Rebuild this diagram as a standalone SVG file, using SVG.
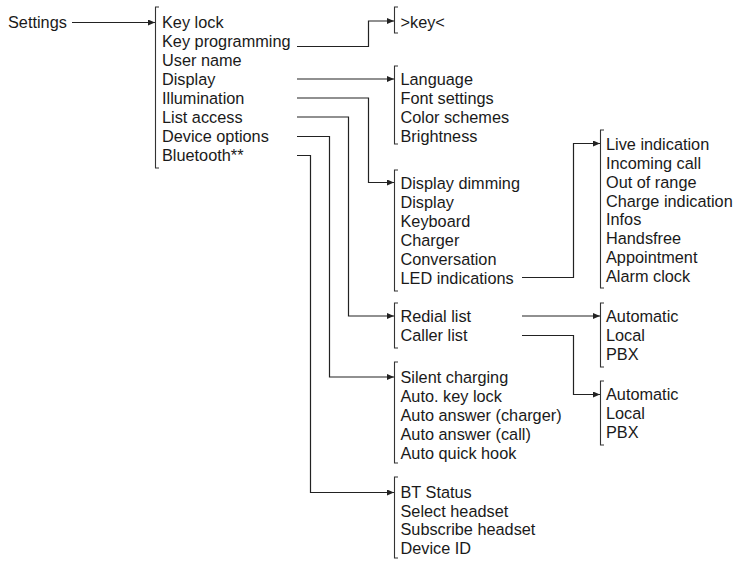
<svg xmlns="http://www.w3.org/2000/svg" width="735" height="561" viewBox="0 0 735 561">
<defs>
<marker id="ah" viewBox="0 0 7 6" refX="7" refY="3" markerWidth="7" markerHeight="6" orient="auto" markerUnits="userSpaceOnUse"><path d="M0,0 L7,3 L0,6 z" fill="#222"/></marker>
</defs>
<style>
text{font-family:"Liberation Sans",Arial,sans-serif;font-size:16.3px;fill:#1a1a1a}
.br{fill:none;stroke:#333;stroke-width:1.1}
.cn{fill:none;stroke:#222;stroke-width:1.2;marker-end:url(#ah)}
.ln{fill:none;stroke:#222;stroke-width:1.2}
</style>
<rect width="735" height="561" fill="#fff"/>
<g id="settings"><text x="8" y="28">Settings</text></g>
<g id="menu">
<path class="br" d="M159,7 H155.5 V168 H159"/>
<text x="162" y="28">Key lock</text>
<text x="162" y="47">Key programming</text>
<text x="162" y="66">User name</text>
<text x="162" y="85">Display</text>
<text x="162" y="104">Illumination</text>
<text x="162" y="123">List access</text>
<text x="162" y="142">Device options</text>
<text x="162" y="161">Bluetooth**</text>
</g>
<g id="keyprog">
<path class="br" d="M398,7 H394.5 V33 H398"/>
<text x="400.5" y="28">&gt;key&lt;</text>
</g>
<g id="display">
<path class="br" d="M398,66 H394.5 V144 H398"/>
<text x="400.5" y="85">Language</text>
<text x="400.5" y="104">Font settings</text>
<text x="400.5" y="123">Color schemes</text>
<text x="400.5" y="142">Brightness</text>
</g>
<g id="illumination">
<path class="br" d="M398,170 H394.5 V291 H398"/>
<text x="400.5" y="188.5">Display dimming</text>
<text x="400.5" y="207.5">Display</text>
<text x="400.5" y="226.5">Keyboard</text>
<text x="400.5" y="245.5">Charger</text>
<text x="400.5" y="264.5">Conversation</text>
<text x="400.5" y="283.5">LED indications</text>
</g>
<g id="led">
<path class="br" d="M604,130 H600.5 V288 H604"/>
<text x="606" y="150">Live indication</text>
<text x="606" y="169">Incoming call</text>
<text x="606" y="188">Out of range</text>
<text x="606" y="206.5">Charge indication</text>
<text x="606" y="225">Infos</text>
<text x="606" y="244">Handsfree</text>
<text x="606" y="263">Appointment</text>
<text x="606" y="281.5">Alarm clock</text>
</g>
<g id="listaccess">
<path class="br" d="M398,303 H394.5 V348 H398"/>
<text x="400.5" y="322">Redial list</text>
<text x="400.5" y="341">Caller list</text>
</g>
<g id="redial">
<path class="br" d="M604,303 H600.5 V367 H604"/>
<text x="606" y="322">Automatic</text>
<text x="606" y="341">Local</text>
<text x="606" y="360">PBX</text>
</g>
<g id="caller">
<path class="br" d="M604,381 H600.5 V445 H604"/>
<text x="606" y="400">Automatic</text>
<text x="606" y="419">Local</text>
<text x="606" y="438">PBX</text>
</g>
<g id="deviceoptions">
<path class="br" d="M398,362 H394.5 V463 H398"/>
<text x="400.5" y="383">Silent charging</text>
<text x="400.5" y="402">Auto. key lock</text>
<text x="400.5" y="421">Auto answer (charger)</text>
<text x="400.5" y="440">Auto answer (call)</text>
<text x="400.5" y="458.5">Auto quick hook</text>
</g>
<g id="bluetooth">
<path class="br" d="M398,477 H394.5 V558 H398"/>
<text x="400.5" y="498">BT Status</text>
<text x="400.5" y="516.5">Select headset</text>
<text x="400.5" y="535">Subscribe headset</text>
<text x="400.5" y="553.5">Device ID</text>
</g>
<g id="connectors">
<path class="cn" d="M72,22.5 H155"/>
<path class="cn" d="M297,46.5 H368.5 V21 H394"/>
<path class="cn" d="M297,79 H394"/>
<path class="cn" d="M297,98 H368.5 V182.5 H394"/>
<path class="cn" d="M297,117 H348.5 V316 H394"/>
<path class="cn" d="M297,136.5 H329.5 V377 H394"/>
<path class="cn" d="M297,155.5 H310.5 V492.5 H394"/>
<path class="cn" d="M522,277.5 H573.5 V143.5 H600"/>
<path class="cn" d="M522,316 H600"/>
<path class="cn" d="M522,335.5 H573.5 V394.5 H600"/>
</g>
</svg>
